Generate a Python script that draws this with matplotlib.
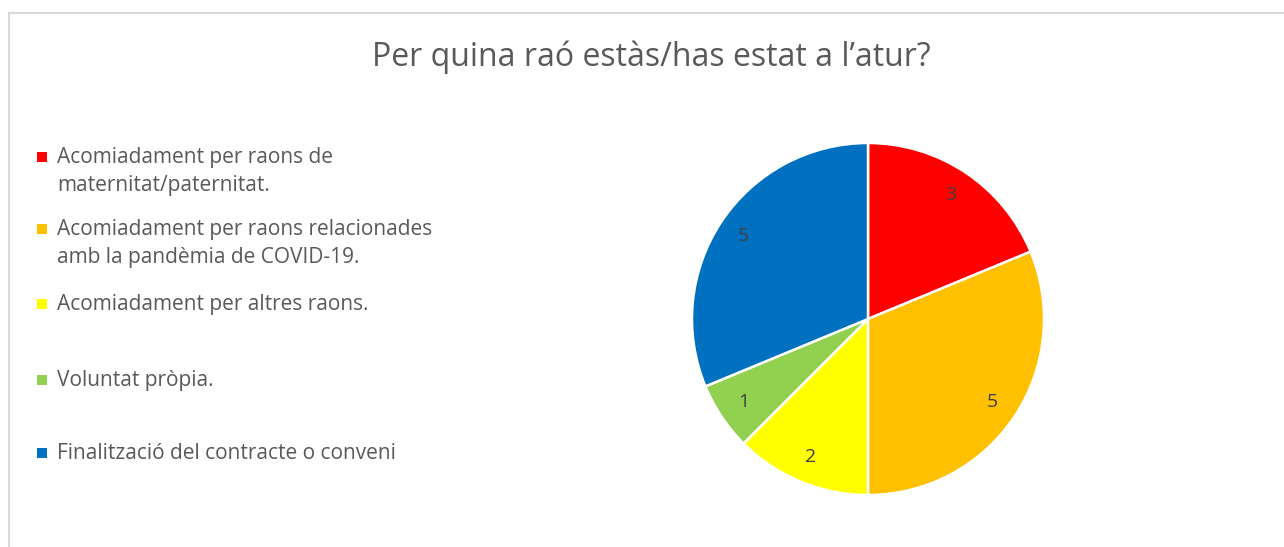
import matplotlib.pyplot as plt
from matplotlib.patches import Rectangle

categories = [
    'Acomiadament per raons de\nmaternitat/paternitat.',
    'Acomiadament per raons relacionades\namb la pandèmia de COVID-19.',
    'Acomiadament per altres raons.',
    'Voluntat pròpia.',
    'Finalització del contracte o conveni',
]
values = [3, 5, 2, 1, 5]
colors = ['#ff0000', '#ffc000', '#ffff00', '#92d050', '#0070c0']
title = 'Per quina raó estàs/has estat a l’atur?'

plt.rcParams['font.family'] = ['Open Sans', 'DejaVu Sans']
text_color = '#595959'

W, H = 1284, 547
fig = plt.figure(figsize=(W / 100, H / 100), dpi=100)

# chart area border (cut off at right and bottom like the screenshot)
fig.patches.append(Rectangle((9 / W, -0.05), 1.2, 1.05 - 13 / H,
                             transform=fig.transFigure, fill=False,
                             edgecolor='#d9d9d9', linewidth=1.5))

# pie: centre (868, 319), radius 176 px
cx, cy, r = 868, 319, 176
ax = fig.add_axes([(cx - r) / W, (H - cy - r) / H, 2 * r / W, 2 * r / H])
wedges, texts = ax.pie(values, colors=colors, startangle=90, counterclock=False,
                       labels=[str(v) for v in values], labeldistance=0.85,
                       wedgeprops=dict(edgecolor='white', linewidth=1.8),
                       textprops=dict(color='#404040', fontsize=14))
for t in texts:
    t.set_horizontalalignment('center')
    t.set_verticalalignment('center')
ax.set_xlim(-1, 1)
ax.set_ylim(-1, 1)
ax.set_aspect('equal')

fig.text(651 / W, 1 - 57 / H, title, ha='center', va='center',
         fontsize=23, color=text_color)

# legend drawn by hand, marker aligned with first line
legend_y = [157, 229, 304, 380, 453]
for lab, col, y in zip(categories, colors, legend_y):
    fig.patches.append(Rectangle(((42 - 5) / W, 1 - (y + 5) / H), 10 / W, 10 / H,
                                 transform=fig.transFigure, facecolor=col,
                                 edgecolor='none'))
    fig.text(57 / W, 1 - (y - 10) / H, lab, ha='left', va='top',
             fontsize=15, color=text_color, linespacing=1.42)

fig.savefig('out.png', dpi=100)
